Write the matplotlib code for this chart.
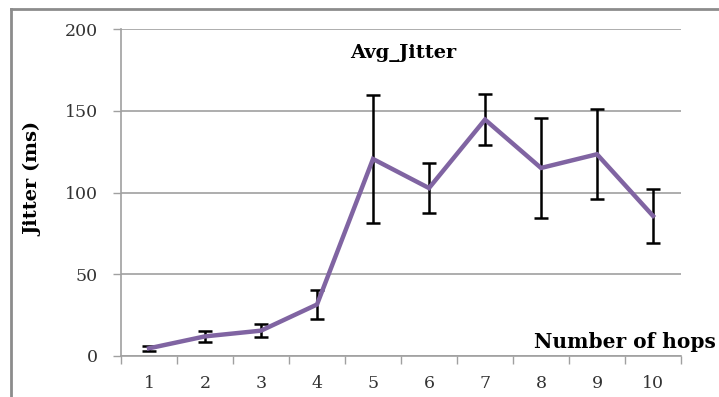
import numpy as np
import matplotlib.pyplot as plt
from matplotlib.ticker import FixedLocator, NullFormatter

# data
hops = [1, 2, 3, 4, 5, 6, 7, 8, 9, 10]
jitter = [4.7, 12.0, 15.5, 31.5, 120.5, 102.7, 144.6, 115.0, 123.4, 85.7]
jitter_err = [1.6, 3.3, 3.9, 8.6, 39.0, 15.4, 15.5, 30.7, 27.5, 16.7]

fig = plt.figure(figsize=(7.19, 3.97), dpi=100)
# outer chart frame (left and top edges only visible)
fig.add_artist(plt.Line2D([11 / 719, 11 / 719], [0, 1 - 9 / 397], color='#8c8c8c', lw=2))
fig.add_artist(plt.Line2D([11 / 719, 1], [1 - 9 / 397, 1 - 9 / 397], color='#8c8c8c', lw=2))

ax = fig.add_axes([121 / 719, 1 - 356 / 397, 560 / 719, 327 / 397])

x = np.arange(len(hops))
ax.errorbar(x, jitter, yerr=jitter_err, fmt='none', ecolor='black', elinewidth=1.8,
            capsize=4.7, capthick=1.8, zorder=2)
ax.plot(x, jitter, color='#8064a2', lw=3.2, zorder=3, solid_joinstyle='miter')

ax.set_xlim(-0.5, len(hops) - 0.5)
ax.set_ylim(0, 200)
ax.set_yticks([0, 50, 100, 150, 200])
ax.grid(axis='y', color='#a0a0a0', lw=1.2)
ax.set_axisbelow(True)

# category boundaries as major ticks, labels on minor ticks at centers
ax.xaxis.set_major_locator(FixedLocator(np.arange(-0.5, len(hops), 1.0)))
ax.xaxis.set_major_formatter(NullFormatter())
ax.xaxis.set_minor_locator(FixedLocator(x))
ax.set_xticklabels([str(h) for h in hops], minor=True)
ax.tick_params(axis='x', which='major', length=5.5, width=1, color='#a0a0a0')
ax.tick_params(axis='x', which='minor', length=0, pad=14)
ax.tick_params(axis='y', length=5.8, width=1, color='#a0a0a0', pad=11)

for lab in ax.get_xticklabels(minor=True) + ax.get_yticklabels():
    lab.set_fontfamily('DejaVu Serif')
    lab.set_fontsize(12.5)
    lab.set_color('#333333')

for s in ['top', 'right']:
    ax.spines[s].set_visible(False)
for s in ['left', 'bottom']:
    ax.spines[s].set_color('#a0a0a0')
    ax.spines[s].set_linewidth(1.2)

fig.text(403 / 719, 1 - 53 / 397, 'Avg_Jitter', ha='center', va='center',
         fontfamily='DejaVu Serif', fontweight='bold', fontsize=14)
fig.text(716 / 719, 1 - 342 / 397, 'Number of hops', ha='right', va='center',
         fontfamily='DejaVu Serif', fontweight='bold', fontsize=14.5)
fig.text(33 / 719, 1 - 179 / 397, 'Jitter (ms)', ha='center', va='center', rotation=90,
         fontfamily='DejaVu Serif', fontweight='bold', fontsize=14)

fig.savefig('out.png', dpi=100)
